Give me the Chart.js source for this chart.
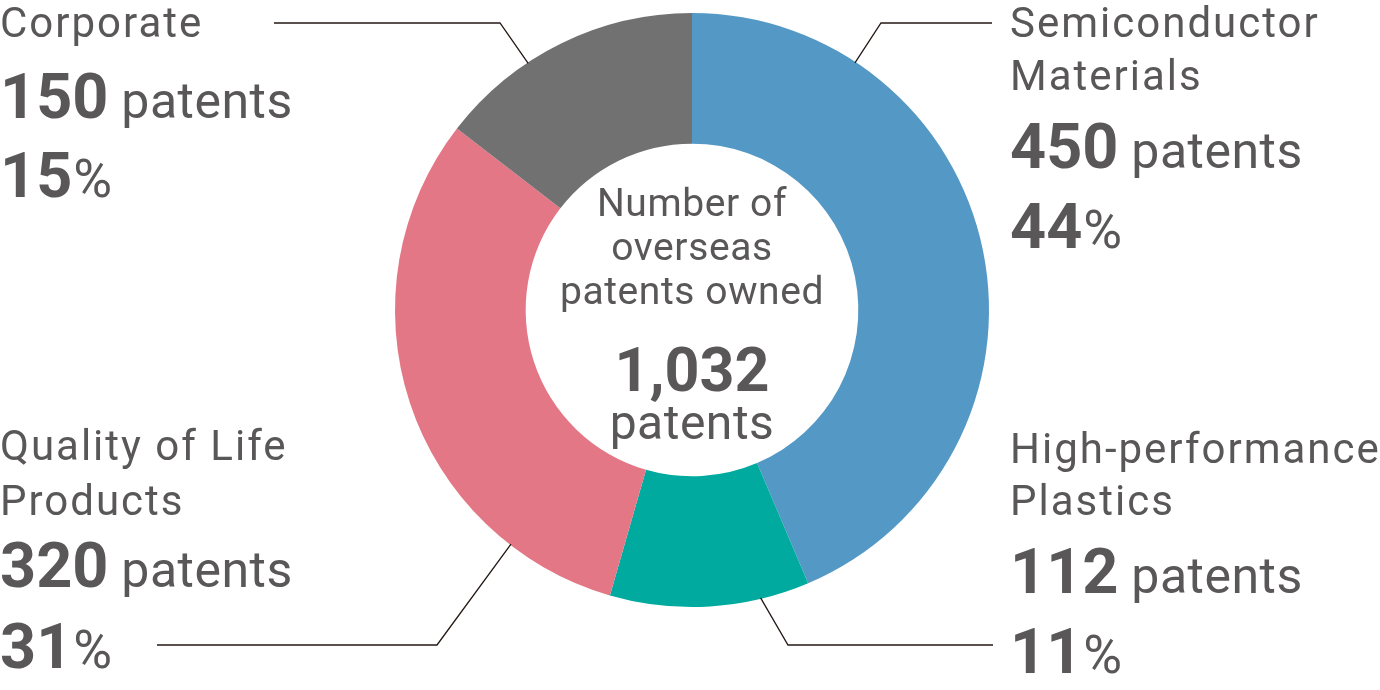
<!DOCTYPE html>
<html>
<head>
<meta charset="utf-8">
<script src="https://cdn.jsdelivr.net/npm/chart.js@4.4.1/dist/chart.umd.min.js"></script>
<style>
  html, body { margin: 0; padding: 0; background: #fff; }
  #wrap { width: 1380px; height: 690px; position: relative; }
</style>
</head>
<body>
<div id="wrap"><canvas id="myChart" width="1380" height="690"></canvas></div>
<script>
const categories = ["Semiconductor Materials", "High-performance Plastics", "Quality of Life Products", "Corporate"]
const labelLines = [["Semiconductor", "Materials"], ["High-performance", "Plastics"], ["Quality of Life", "Products"], ["Corporate"]]
const patents = [450, 112, 320, 150]
const shares = [44, 11, 31, 15]
const colors = ["#5498c5", "#00aa9e", "#e37785", "#717171"]
const centerLines = ["Number of", "overseas", "patents owned"]
const totalPatents = patents.reduce((a, b) => a + b, 0)

const textColor = "#595757"
const lineColor = "#231815"

// where each label block sits and how its leader line runs (anchor angle on the ring, degrees from top)
const layout = [
  { x: 1010, base: [37, 90, 168, 248], angle: 33.4, elbow: [881, 23], end: [992, 23] },
  { x: 1010, base: [463, 515, 593, 673], angle: 166.6, elbow: [788, 645], end: [993, 645] },
  { x: 0, base: [460, 515, 587, 668], angle: 217.7, elbow: [437, 645], end: [157, 645] },
  { x: 0, base: [37, 118, 197], angle: 326.4, elbow: [500, 23], end: [274, 23] },
]

const setFont = (ctx, weight, size, spacing) => {
  ctx.font = `${weight} ${size}px Roboto, "Liberation Sans", sans-serif`
  ctx.letterSpacing = spacing + "px"
}

const labelsPlugin = {
  id: "labels",
  afterDraw(chart) {
    const ctx = chart.ctx
    const arcs = chart.getDatasetMeta(0).data
    ctx.save()
    ctx.fillStyle = textColor
    ctx.textBaseline = "alphabetic"

    // centre text
    const cx = arcs[0].x
    ctx.textAlign = "center"
    setFont(ctx, 400, 39, 0.6)
    ctx.fillText(centerLines[0], cx, 216)
    ctx.fillText(centerLines[1], cx, 260)
    ctx.fillText(centerLines[2], cx, 304)
    setFont(ctx, 700, 61, 0)
    ctx.fillText(totalPatents.toLocaleString("en-US"), cx, 391)
    setFont(ctx, 400, 48, 0.5)
    ctx.fillText("patents", cx, 439)

    // leader lines
    ctx.strokeStyle = lineColor
    ctx.lineWidth = 1.3
    layout.forEach((l, i) => {
      const arc = arcs[i]
      const a = (l.angle * Math.PI) / 180
      const r = arc.outerRadius - 1
      const ax = arc.x + r * Math.sin(a)
      const ay = arc.y - r * Math.cos(a)
      ctx.beginPath()
      ctx.moveTo(ax, ay)
      ctx.lineTo(l.elbow[0], l.elbow[1])
      ctx.lineTo(l.end[0], l.end[1])
      ctx.stroke()
    })

    // label blocks
    ctx.textAlign = "left"
    layout.forEach((l, i) => {
      const lines = labelLines[i]
      setFont(ctx, 400, 42, 2)
      lines.forEach((t, k) => ctx.fillText(t, l.x, l.base[k]))
      const nb = l.base[lines.length]
      const pb = l.base[lines.length + 1]

      setFont(ctx, 700, 63, 0)
      const num = String(patents[i])
      ctx.fillText(num, l.x, nb)
      const nw = ctx.measureText(num).width
      setFont(ctx, 400, 50, 0.5)
      ctx.fillText(" patents", l.x + nw, nb)

      setFont(ctx, 700, 63, 0)
      const pct = String(shares[i])
      ctx.fillText(pct, l.x, pb)
      const pw = ctx.measureText(pct).width
      setFont(ctx, 400, 53, 0)
      ctx.fillText("%", l.x + pw + 1, pb)
    })
    ctx.restore()
  },
}

new Chart(document.getElementById("myChart"), {
  type: "doughnut",
  data: {
    labels: categories,
    datasets: [
      {
        data: patents,
        backgroundColor: colors,
        borderWidth: 0,
        hoverOffset: 0,
      },
    ],
  },
  options: {
    responsive: false,
    devicePixelRatio: 1,
    animation: false,
    cutout: "56%",
    layout: { padding: { top: 13, bottom: 83, left: 4, right: 0 } },
    plugins: {
      legend: { display: false },
      tooltip: { enabled: false },
    },
  },
  plugins: [labelsPlugin],
})
</script>
</body>
</html>
